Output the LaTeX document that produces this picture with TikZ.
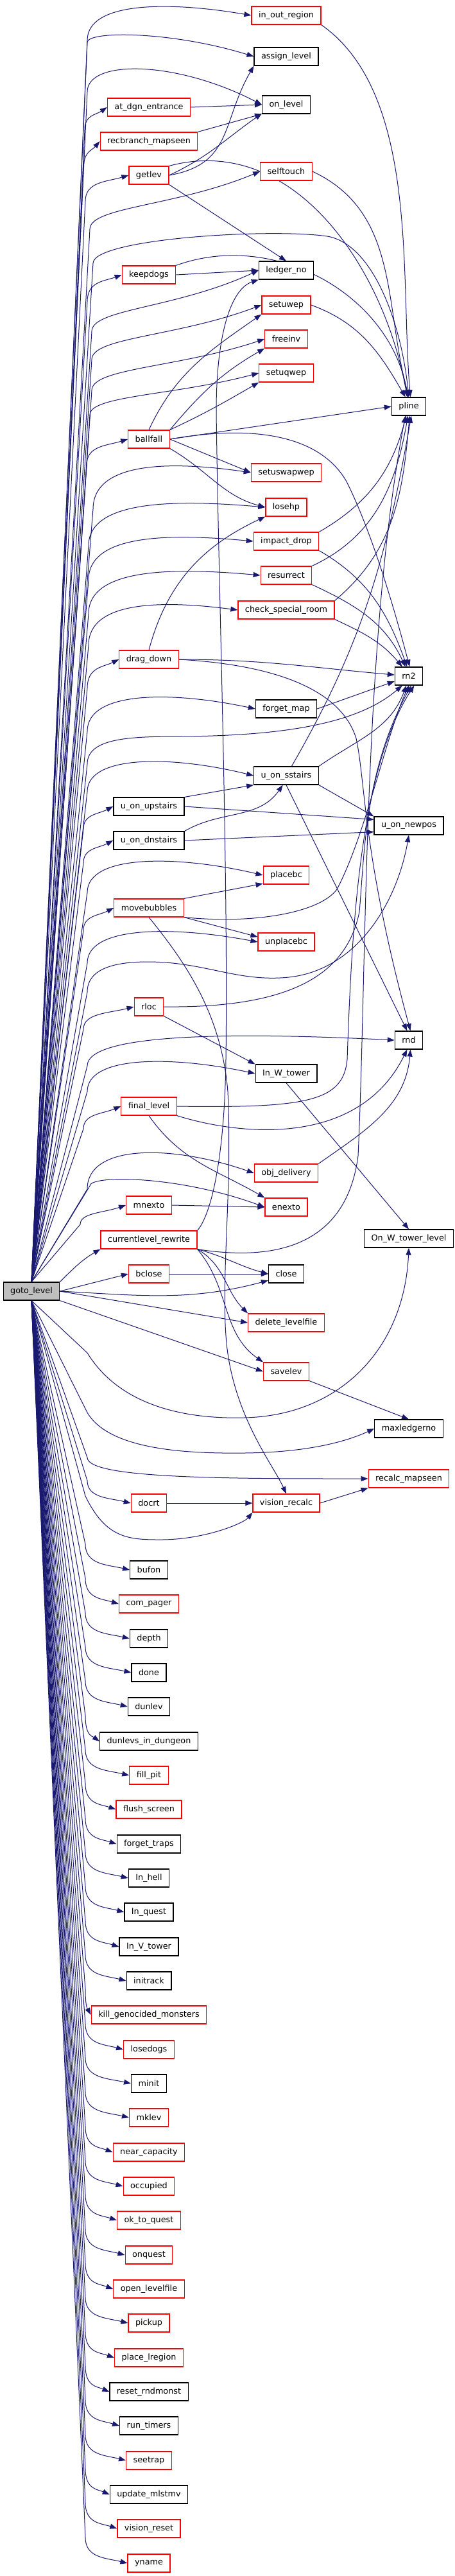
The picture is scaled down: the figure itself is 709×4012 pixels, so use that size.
\documentclass[tikz,border=0pt]{standalone}
\usepackage{fontspec}
\setmainfont{DejaVu Sans}
\usetikzlibrary{arrows.meta,calc,backgrounds}
\definecolor{edgeblue}{HTML}{191970}
\definecolor{boxred}{HTML}{FF0000}
\tikzset{
  fn/.style={draw=black, line width=1.2pt, fill=white, minimum height=28pt, inner xsep=11pt, inner ysep=0pt, font=\fontsize{12.8}{15}\selectfont},
  fnred/.style={fn, draw=boxred},
  root/.style={fn, fill=black!25},
  edge/.style={draw=edgeblue, line width=1pt, -{Triangle[length=11pt,width=8pt]}}
}
\newcommand\goup[4]{\draw[edge] let \p1=(goto.north), \p2=(#1.west) in (\p1) -- (#2pt,{\y2-(#3pt)}) .. controls (#2pt,{\y2+(#4pt)}) and ({(#2pt+\x2)/2},{\y2+(#4pt)}) .. (\p2);}
\newcommand\godown[4]{\draw[edge] let \p1=(goto.south), \p2=(#1.west) in (\p1) -- (#2pt,{\y2+(#3pt)}) .. controls (#2pt,{\y2+(#4pt)}) and ({(#2pt+\x2)/2},{\y2+(#4pt)}) .. (\p2);}
\begin{document}
\begin{tikzpicture}[x=1pt,y=1pt]
    \useasboundingbox (0,0) rectangle (709,-4012);

    \node[fnred] (inout) at (446,-24) {in\_out\_region};
    \node[fn] (assign) at (446,-88) {assign\_level};
    \node[fn] (onlevel) at (446,-163) {on\_level};
    \node[fnred] (atdgn) at (232,-167) {at\_dgn\_entrance};
    \node[fnred] (recbranch) at (232,-220) {recbranch\_mapseen};
    \node[fnred] (getlev) at (232,-273) {getlev};
    \node[fnred] (selftouch) at (446,-267) {selftouch};
    \node[fnred] (keepdogs) at (232,-428) {keepdogs};
    \node[fn] (ledgerno) at (446,-421) {ledger\_no};
    \node[fnred] (setuwep) at (446,-475) {setuwep};
    \node[fnred] (freeinv) at (446,-528) {freeinv};
    \node[fnred] (setuqwep) at (446,-581) {setuqwep};
    \node[fn] (pline) at (637,-633) {pline};
    \node[fnred] (ballfall) at (232,-684) {ballfall};
    \node[fnred] (setuswapwep) at (446,-736) {setuswapwep};
    \node[fnred] (losehp) at (446,-790) {losehp};
    \node[fnred] (impactdrop) at (446,-843) {impact\_drop};
    \node[fnred] (resurrect) at (446,-896) {resurrect};
    \node[fnred] (specroom) at (446,-950) {check\_special\_room};
    \node[fnred] (dragdown) at (232,-1027) {drag\_down};
    \node[fn] (rntwo) at (637,-1053) {rn2};
    \node[fn] (forgetmap) at (446,-1104) {forget\_map};
    \node[fn] (sstairs) at (446,-1208) {u\_on\_sstairs};
    \node[fn] (upstairs) at (232,-1256) {u\_on\_upstairs};
    \node[fn] (newpos) at (637,-1286) {u\_on\_newpos};
    \node[fn] (dnstairs) at (232,-1309) {u\_on\_dnstairs};
    \node[fnred] (placebc) at (446,-1363) {placebc};
    \node[fnred] (bubbles) at (232,-1414) {movebubbles};
    \node[fnred] (unplacebc) at (446,-1467) {unplacebc};
    \node[fnred] (rloc) at (232,-1568) {rloc};
    \node[fn] (rnd) at (637,-1620) {rnd};
    \node[fn] (inwtower) at (446,-1672) {In\_W\_tower};
    \node[fnred] (finallevel) at (232,-1723) {final\_level};
    \node[fnred] (objdelivery) at (446,-1827) {obj\_delivery};
    \node[fnred] (mnexto) at (232,-1877) {mnexto};
    \node[fnred] (enexto) at (446,-1880) {enexto};
    \node[fn] (onwtower) at (637,-1929) {On\_W\_tower\_level};
    \node[fnred] (rewrite) at (232,-1931) {currentlevel\_rewrite};
    \node[fnred] (bclose) at (232,-1984) {bclose};
    \node[fn] (close) at (446,-1984) {close};
    \node[root] (goto) at (49,-2011) {goto\_level};
    \node[fnred] (dellevel) at (446,-2060) {delete\_levelfile};
    \node[fnred] (savelev) at (446,-2136) {savelev};
    \node[fn] (maxledger) at (637,-2225) {maxledgerno};
    \node[fnred] (recalc) at (637,-2303) {recalc\_mapseen};
    \node[fnred] (docrt) at (232,-2341) {docrt};
    \node[fnred] (visrecalc) at (446,-2341) {vision\_recalc};
    \node[fn] (bufon) at (232,-2445) {bufon};
    \node[fnred] (compager) at (232,-2498) {com\_pager};
    \node[fn] (depth) at (232,-2552) {depth};
    \node[fn] (done) at (232,-2605) {done};
    \node[fn] (dunlev) at (232,-2658) {dunlev};
    \node[fn] (dunlevs) at (232,-2712) {dunlevs\_in\_dungeon};
    \node[fnred] (fillpit) at (232,-2765) {fill\_pit};
    \node[fnred] (flushscreen) at (232,-2818) {flush\_screen};
    \node[fn] (forgettraps) at (232,-2872) {forget\_traps};
    \node[fn] (inhell) at (232,-2925) {In\_hell};
    \node[fn] (inquest) at (232,-2978) {In\_quest};
    \node[fn] (invtower) at (232,-3032) {In\_V\_tower};
    \node[fn] (initrack) at (232,-3085) {initrack};
    \node[fnred] (killgeno) at (232,-3138) {kill\_genocided\_monsters};
    \node[fnred] (losedogs) at (232,-3192) {losedogs};
    \node[fn] (minit) at (232,-3245) {minit};
    \node[fnred] (mklev) at (232,-3298) {mklev};
    \node[fnred] (nearcap) at (232,-3352) {near\_capacity};
    \node[fnred] (occupied) at (232,-3405) {occupied};
    \node[fnred] (oktoquest) at (232,-3458) {ok\_to\_quest};
    \node[fnred] (onquest) at (232,-3512) {onquest};
    \node[fnred] (openlevel) at (232,-3565) {open\_levelfile};
    \node[fnred] (pickup) at (232,-3618) {pickup};
    \node[fnred] (placelregion) at (232,-3672) {place\_lregion};
    \node[fn] (resetrnd) at (232,-3725) {reset\_rndmonst};
    \node[fn] (runtimers) at (232,-3778) {run\_timers};
    \node[fnred] (seetrap) at (232,-3832) {seetrap};
    \node[fn] (updatemlstmv) at (232,-3885) {update\_mlstmv};
    \node[fnred] (visreset) at (232,-3938) {vision\_reset};
    \node[fnred] (yname) at (232,-3992) {yname};

    \begin{scope}[on background layer]
    \goup{inout}{136}{39}{22}
    \goup{assign}{136}{-22}{40}
    \goup{onlevel}{136}{-20}{70}
    \goup{atdgn}{132}{35}{-12}
    \goup{recbranch}{130}{45}{-15}
    \goup{getlev}{133}{40}{-10}
    \goup{selftouch}{140}{90}{-55}
    \goup{keepdogs}{136}{42}{-10}
    \goup{ledgerno}{143}{95}{-60}
    \goup{setuwep}{143}{85}{-50}
    \goup{freeinv}{143}{80}{-45}
    \goup{setuqwep}{140}{65}{-35}
    \goup{ballfall}{135}{40}{-10}
    \goup{setuswapwep}{145}{57}{18}
    \goup{losehp}{138}{60}{12}
    \goup{impactdrop}{138}{60}{12}
    \goup{resurrect}{138}{60}{12}
    \goup{specroom}{138}{55}{15}
    \goup{dragdown}{136}{45}{-12}
    \goup{forgetmap}{136}{35}{28}
    \goup{sstairs}{136}{25}{32}
    \goup{upstairs}{130}{35}{-12}
    \goup{dnstairs}{130}{35}{-12}
    \goup{placebc}{136}{27}{32}
    \goup{bubbles}{130}{35}{-12}
    \goup{unplacebc}{136}{33}{25}
    \goup{rloc}{130}{35}{-10}
    \goup{rnd}{136}{40}{12}
    \goup{inwtower}{136}{28}{28}
    \goup{finallevel}{130}{35}{-12}
    \goup{objdelivery}{136}{25}{45}
    \goup{mnexto}{125}{30}{-12}
    \goup{enexto}{140}{-33}{50}
    \draw[edge] (goto.north) -- (145,-410) .. controls (145,-372) and (420,-355) .. (510,-368) .. controls (580,-380) and (625,-500) .. (pline.north);
    \draw[edge] (goto.north) -- (136,-1190) .. controls (136,-1150) and (200,-1147) .. (280,-1147) .. controls (450,-1146) and (560,-1125) .. (rntwo.235);
    \draw[edge] (goto.north) -- (136,-1545) .. controls (136,-1508) and (180,-1498) .. (230,-1498) .. controls (320,-1498) and (370,-1530) .. (450,-1522) .. controls (560,-1510) and (620,-1400) .. (newpos.south);
    \draw[edge] (goto.north east) to[out=45,in=210] (rewrite.south west);
    \draw[edge] (goto.east) -- (bclose.west);
    \draw[edge] (goto.east) to[out=-3,in=195] (close.200);
    \draw[edge] (goto.east) -- (dellevel.west);
    \draw[edge] (goto.south east) -- (savelev.west);
    \draw[edge] (goto.south) -- (136,-2107) .. controls (190,-2195) and (300,-2210) .. (380,-2208) .. controls (530,-2205) and (630,-2100) .. (onwtower.south);
    \draw[edge] (goto.south) -- (136,-2200) .. controls (170,-2258) and (290,-2264) .. (380,-2263) .. controls (480,-2262) and (540,-2245) .. (maxledger.west);
    \godown{recalc}{136}{33}{0}
    \godown{docrt}{136}{35}{8}
    \draw[edge] (goto.south) -- (133,-2330) .. controls (165,-2396) and (200,-2398) .. (250,-2398) .. controls (320,-2398) and (380,-2372) .. (visrecalc.south west);
    \godown{bufon}{133}{40}{8}
    \godown{compager}{133}{40}{8}
    \godown{depth}{133}{40}{8}
    \godown{done}{133}{40}{8}
    \godown{dunlev}{133}{40}{8}
    \godown{dunlevs}{133}{40}{8}
    \godown{fillpit}{133}{40}{8}
    \godown{flushscreen}{133}{40}{8}
    \godown{forgettraps}{133}{40}{8}
    \godown{inhell}{133}{40}{8}
    \godown{inquest}{133}{40}{8}
    \godown{invtower}{133}{40}{8}
    \godown{initrack}{133}{40}{8}
    \godown{killgeno}{133}{40}{8}
    \godown{losedogs}{133}{40}{8}
    \godown{minit}{133}{40}{8}
    \godown{mklev}{133}{40}{8}
    \godown{nearcap}{133}{40}{8}
    \godown{occupied}{133}{40}{8}
    \godown{oktoquest}{133}{40}{8}
    \godown{onquest}{133}{40}{8}
    \godown{openlevel}{133}{40}{8}
    \godown{pickup}{133}{40}{8}
    \godown{placelregion}{133}{40}{8}
    \godown{resetrnd}{133}{40}{8}
    \godown{runtimers}{133}{40}{8}
    \godown{seetrap}{133}{40}{8}
    \godown{updatemlstmv}{133}{40}{8}
    \godown{visreset}{133}{40}{8}
    \godown{yname}{133}{40}{8}

    \draw[edge] (atdgn.east) -- (onlevel.west);
    \draw[edge] (recbranch.north east) -- (onlevel.south west);
    \draw[edge] (getlev.east) to[out=10,in=240,looseness=1.2] (assign.south west);
    \draw[edge] (getlev.east) to[out=25,in=215] (onlevel.200);
    \draw[edge] (getlev.north east) to[out=15,in=100] (pline.100);
    \draw[edge] (getlev.south east) -- (ledgerno.north);
    \draw[edge] (selftouch.east) to[out=-25,in=105] (pline.north);
    \draw[edge] (inout.south east) to[out=-35,in=95,looseness=0.8] (pline.80);
    \draw[edge] (keepdogs.east) -- (ledgerno.west);
    \draw[edge] (keepdogs.north east) to[out=20,in=100] (pline.95);
    \draw[edge] (setuwep.east) to[out=-20,in=120] (pline.110);
    \draw[edge] (ballfall.north) to[out=65,in=215] (setuwep.south west);
    \draw[edge] (ballfall.north east) to[out=50,in=210] (freeinv.south west);
    \draw[edge] (ballfall.north east) to[out=25,in=210] (setuqwep.south west);
    \draw[edge] (ballfall.east) -- (pline.west);
    \draw[edge] (ballfall.east) .. controls (400,-660) and (500,-680) .. (540,-750) .. controls (580,-830) and (615,-950) .. (rntwo.85);
    \draw[edge] (ballfall.east) -- (setuswapwep.west);
    \draw[edge] (ballfall.south east) to[out=-30,in=165] (losehp.west);
    \draw[edge] (dragdown.north) to[out=75,in=205] (losehp.south west);
    \draw[edge] (dragdown.east) to[out=0,in=175] (rntwo.175);
    \draw[edge] (dragdown.east) .. controls (420,-1035) and (530,-1070) .. (555,-1150) .. controls (570,-1220) and (565,-1330) .. (rnd.80);
    \draw[edge] (impactdrop.north east) to[out=30,in=-105] (pline.255);
    \draw[edge] (impactdrop.south east) to[out=-30,in=110] (rntwo.100);
    \draw[edge] (resurrect.north east) to[out=25,in=-100] (pline.265);
    \draw[edge] (resurrect.south east) to[out=-25,in=115] (rntwo.110);
    \draw[edge] (specroom.north east) to[out=40,in=-95] (pline.275);
    \draw[edge] (specroom.south east) to[out=-25,in=130] (rntwo.125);
    \draw[edge] (forgetmap.east) -- (rntwo.200);
    \draw[edge] (sstairs.60) to[out=60,in=-100] (pline.285);
    \draw[edge] (sstairs.north east) to[out=35,in=-110] (rntwo.255);
    \draw[edge] (sstairs.south east) -- (newpos.north west);
    \draw[edge] (sstairs.south) -- (rnd.100);
    \draw[edge] (upstairs.north east) -- (sstairs.south west);
    \draw[edge] (upstairs.east) -- (newpos.170);
    \draw[edge] (dnstairs.north east) to[out=30,in=235] (sstairs.250);
    \draw[edge] (dnstairs.east) -- (newpos.190);
    \draw[edge] (bubbles.north east) -- (placebc.200);
    \draw[edge] (bubbles.south east) -- (unplacebc.170);
    \draw[edge] (bubbles.south east) .. controls (400,-1440) and (500,-1420) .. (525,-1385) .. controls (570,-1300) and (600,-1150) .. (rntwo.270);
    \draw[edge] (bubbles.south) .. controls (290,-1500) and (345,-1580) .. (355,-1700) .. controls (362,-1850) and (345,-1980) .. (352,-2080) .. controls (360,-2200) and (425,-2280) .. (visrecalc.north);
    \draw[edge] (rloc.east) .. controls (450,-1570) and (540,-1520) .. (560,-1420) .. controls (568,-1330) and (568,-1200) .. (rntwo.285);
    \draw[edge] (rloc.south east) -- (inwtower.north west);
    \draw[edge] (inwtower.south) -- (onwtower.north);
    \draw[edge] (finallevel.east) .. controls (480,-1726) and (535,-1715) .. (541,-1650) .. controls (548,-1450) and (560,-1200) .. (rntwo.300);
    \draw[edge] (finallevel.south east) .. controls (380,-1770) and (560,-1785) .. (rnd.260);
    \draw[edge] (finallevel.south) to[out=-55,in=150] (enexto.north west);
    \draw[edge] (objdelivery.north east) to[out=35,in=-95] (rnd.280);
    \draw[edge] (mnexto.east) -- (enexto.west);
    \draw[edge] (rewrite.north east) .. controls (330,-1890) and (350,-1800) .. (352,-1650) .. controls (356,-1350) and (340,-900) .. (337,-640) .. controls (337,-520) and (360,-450) .. (ledgerno.south west);
    \draw[edge] (rewrite.south east) .. controls (430,-1965) and (540,-1940) .. (558,-1800) .. controls (572,-1500) and (565,-1000) .. (pline.250);
    \draw[edge] (rewrite.south east) to[out=-15,in=165] (close.west);
    \draw[edge] (rewrite.south east) to[out=-30,in=135] (dellevel.north west);
    \draw[edge] (rewrite.south east) to[out=-50,in=145] (savelev.north west);
    \draw[edge] (bclose.east) -- (close.west);
    \draw[edge] (savelev.south east) -- (maxledger.north);
    \draw[edge] (docrt.east) -- (visrecalc.west);
    \draw[edge] (visrecalc.east) -- (recalc.south west);
    \end{scope}
\end{tikzpicture}
\end{document}
